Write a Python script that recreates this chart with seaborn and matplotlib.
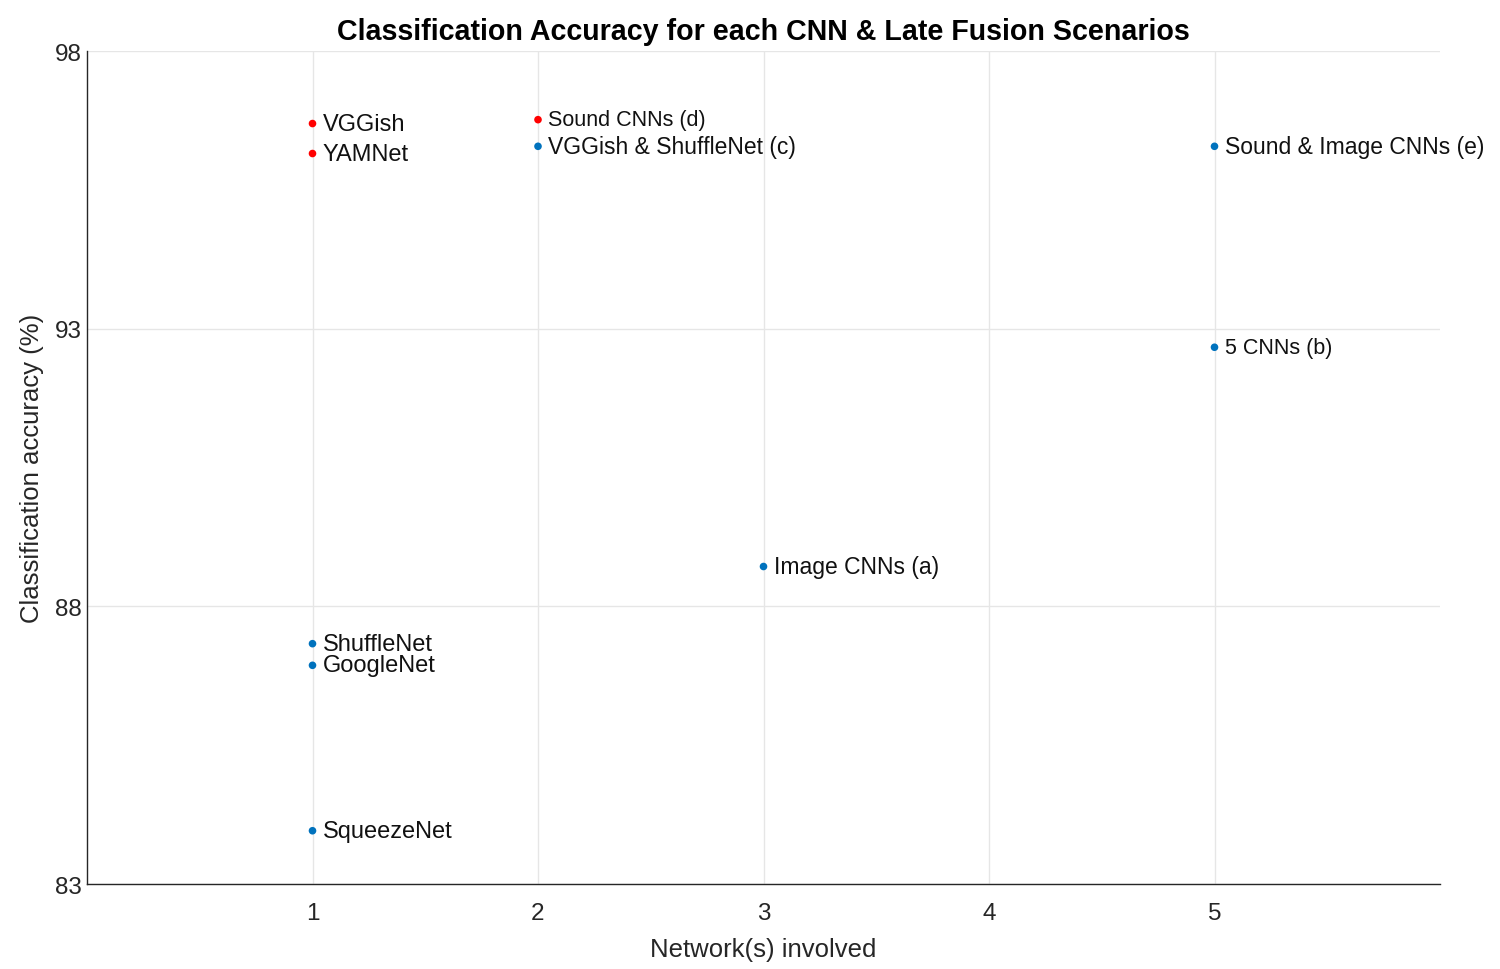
import matplotlib
matplotlib.use('Agg')
import matplotlib.pyplot as plt
import seaborn as sns
import pandas as pd

# chart values
labels = ['VGGish', 'YAMNet', 'ShuffleNet', 'GoogleNet', 'SqueezeNet',
          'Sound CNNs (d)', 'VGGish & ShuffleNet (c)', 'Image CNNs (a)',
          'Sound & Image CNNs (e)', '5 CNNs (b)']
networks = [1, 1, 1, 1, 1, 2, 2, 3, 5, 5]
accuracy = [96.70, 96.16, 87.33, 86.94, 83.96, 96.77, 96.29, 88.72, 96.29, 92.67]
kind = ['sound', 'sound', 'image', 'image', 'image',
        'sound', 'fusion', 'fusion', 'fusion', 'fusion']
label_size = [17, 17, 17, 17, 17, 15.5, 16.5, 16.5, 16.5, 15.5]

data = pd.DataFrame({'label': labels, 'networks': networks,
                     'accuracy': accuracy, 'kind': kind})

sns.set_style('white')
plt.rcParams['font.family'] = ['Liberation Sans', 'DejaVu Sans']

fig, ax = plt.subplots(figsize=(15, 9.7), dpi=100)
fig.subplots_adjust(left=0.058, right=0.96, top=0.946, bottom=0.0876)

palette = {'sound': '#ff0000', 'image': '#0072bd', 'fusion': '#0072bd'}
sns.scatterplot(x='networks', y='accuracy', hue='kind', data=data,
                palette=palette, s=30, edgecolor='none', legend=False, ax=ax)

# text labels next to each point
for i, row in data.iterrows():
    ax.text(row['networks'] + 0.045, row['accuracy'], row['label'],
            fontsize=label_size[i], va='center', ha='left', color='#111111')

ax.set_xlim(0, 6)
ax.set_ylim(83, 98)
ax.set_xticks([1, 2, 3, 4, 5])
ax.set_yticks([83, 88, 93, 98])
ax.grid(True, color='#e6e6e6', linewidth=1)
ax.set_axisbelow(True)

for side in ['top', 'right']:
    ax.spines[side].set_visible(False)
for side in ['left', 'bottom']:
    ax.spines[side].set_color('#262626')
    ax.spines[side].set_linewidth(1)

ax.tick_params(direction='in', length=12, width=1, color='#262626',
               labelsize=17.5, labelcolor='#262626')
ax.tick_params(axis='x', pad=13)

ax.set_title('Classification Accuracy for each CNN & Late Fusion Scenarios',
             fontsize=20.6, fontweight='bold', pad=9, color='#000000')
ax.set_xlabel('Network(s) involved', fontsize=18.5, color='#262626', labelpad=9)
ax.set_ylabel('Classification accuracy (%)', fontsize=18.5, color='#262626', labelpad=8)

plt.savefig('out.png', dpi=100)
